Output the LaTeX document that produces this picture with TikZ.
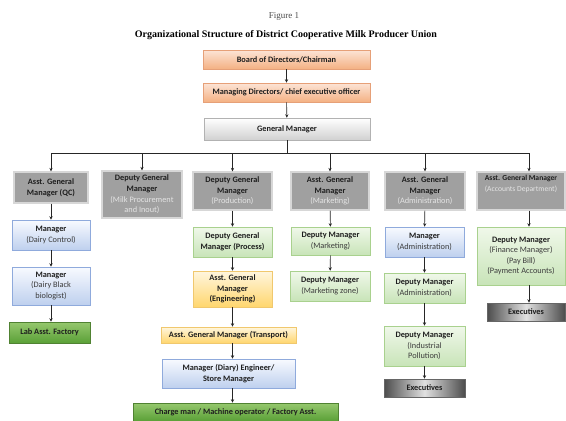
\documentclass[tikz,border=0pt]{standalone}
\usepackage{fontspec}
\setmainfont{Liberation Serif}
\newfontfamily\boxfont{Carlito}
\usetikzlibrary{arrows.meta,shadows}
\definecolor{txt}{RGB}{30,30,30}
\definecolor{ptxt}{RGB}{60,60,60}
\definecolor{orL}{RGB}{252,228,214}
\definecolor{orD}{RGB}{244,177,131}
\definecolor{orB}{RGB}{230,160,120}
\definecolor{gry}{RGB}{160,160,160}
\definecolor{gryB}{RGB}{215,215,215}
\definecolor{gryT}{RGB}{228,228,228}
\definecolor{blL}{RGB}{248,250,255}
\definecolor{blD}{RGB}{190,208,238}
\definecolor{blB}{RGB}{143,170,220}
\definecolor{lgL}{RGB}{240,248,234}
\definecolor{lgD}{RGB}{200,228,184}
\definecolor{lgB}{RGB}{169,209,142}
\definecolor{yeL}{RGB}{255,246,222}
\definecolor{yeD}{RGB}{255,214,110}
\definecolor{yeB}{RGB}{240,200,110}
\definecolor{dgL}{RGB}{150,200,110}
\definecolor{dgD}{RGB}{90,160,55}
\definecolor{dgB}{RGB}{80,130,50}
\begin{document}
\begin{tikzpicture}[x=1pt,y=-1pt,
  box/.style={rectangle, inner sep=0pt, align=center, text=txt,
    font=\boxfont\fontsize{8.3}{10.6}\selectfont\bfseries,
    drop shadow={shadow xshift=0.8pt, shadow yshift=-0.9pt, opacity=0.3}},
  orbox/.style={box, top color=orL, bottom color=orD, draw=orB, line width=0.5pt},
  gmbox/.style={box, top color=white, bottom color=black!18, draw=black!30, line width=0.5pt},
  grbox/.style={box, fill=gry, draw=gryB, line width=1.2pt},
  blbox/.style={box, top color=blL, bottom color=blD, draw=blB, line width=0.5pt},
  lgbox/.style={box, top color=lgL, bottom color=lgD, draw=lgB, line width=0.5pt},
  yebox/.style={box, top color=yeL, bottom color=yeD, draw=yeB, line width=0.5pt},
  dgbox/.style={box, top color=dgL, bottom color=dgD, draw=dgB, line width=0.5pt},
  exbox/.style={box, left color=black!70, right color=black!70, middle color=black!12, draw=black!60, line width=0.5pt},
  arr/.style={-{Stealth[length=3.5pt,width=3.2pt]}, line width=0.6pt, draw=black!85},
  ln/.style={line width=0.6pt, draw=black!85}
]
\useasboundingbox[fill=white] (0,0) rectangle (566,421);
\newcommand{\pn}[1]{{\mdseries\color{ptxt}#1}}
\newcommand{\pg}[1]{{\mdseries\color{gryT}#1}}

\node[font=\fontsize{9}{10}\selectfont, text=black!70] (fig) at (284,16) {Figure 1};
\node[font=\fontsize{10}{11}\selectfont\bfseries] (title) at (286,35) {Organizational Structure of District Cooperative Milk Producer Union};

\node[orbox, minimum width=167pt, minimum height=19pt] (board) at (286.5,59.5) {Board of Directors/Chairman};
\node[orbox, minimum width=167pt, minimum height=19pt] (md) at (286.5,92.5) {Managing Directors/ chief executive officer};
\node[gmbox, minimum width=166pt, minimum height=22pt] (gm) at (287,129) {General Manager};

\node[grbox, minimum width=74pt, minimum height=31pt] (qc) at (51,187.5) {Asst. General\\Manager (QC)};
\node[grbox, minimum width=80pt, minimum height=47pt] (milk) at (142,194.5) {Deputy General\\Manager\\\pg{(Milk Procurement}\\\pg{and Inout)}};
\node[grbox, minimum width=79pt, minimum height=38pt] (prod) at (232.5,191) {Deputy General\\Manager\\\pg{(Production)}};
\node[grbox, minimum width=78pt, minimum height=38pt] (mkt) at (330,191) {Asst. General\\Manager\\\pg{(Marketing)}};
\node[grbox, minimum width=80pt, minimum height=38pt] (adm) at (425,191) {Asst. General\\Manager\\\pg{(Administration)}};
\node[grbox, minimum width=88pt, minimum height=38pt, font=\boxfont\fontsize{7.6}{10.5}\selectfont\bfseries] (acc) at (521,191) {Asst. General Manager\\\pg{(Accounts Department)}\\[5pt]};

\node[blbox, minimum width=78pt, minimum height=30pt] (dc) at (51,235) {Manager\\\pn{(Dairy Control)}};
\node[blbox, minimum width=78pt, minimum height=38pt] (db) at (51,286) {Manager\\\pn{(Dairy Black}\\\pn{biologist)}};
\node[dgbox, minimum width=81pt, minimum height=21pt] (lab) at (49.5,332.5) {Lab Asst. Factory};

\node[lgbox, minimum width=79pt, minimum height=30pt] (proc) at (232.5,242) {Deputy General\\Manager (Process)};
\node[yebox, minimum width=79pt, minimum height=36pt] (eng) at (232.5,289) {Asst. General\\Manager\\(Engineering)};
\node[yebox, minimum width=135pt, minimum height=16pt] (trans) at (228.5,335) {Asst. General Manager (Transport)};
\node[blbox, minimum width=133pt, minimum height=29pt] (mde) at (228.5,373.5) {Manager (Diary) Engineer/\\Store Manager};
\node[dgbox, minimum width=205pt, minimum height=18pt] (charge) at (235.5,412) {Charge man / Machine operator / Factory Asst.};

\node[lgbox, minimum width=79pt, minimum height=28pt] (dmm) at (330.5,241) {Deputy Manager\\\pn{(Marketing)}};
\node[lgbox, minimum width=80pt, minimum height=30pt] (dmz) at (330,286) {Deputy Manager\\\pn{(Marketing zone)}};

\node[blbox, minimum width=79pt, minimum height=30pt] (madm) at (424.5,242) {Manager\\\pn{(Administration)}};
\node[lgbox, minimum width=81pt, minimum height=30pt] (dmadm) at (424.5,288) {Deputy Manager\\\pn{(Administration)}};
\node[lgbox, minimum width=81pt, minimum height=40pt] (dmip) at (424.5,346) {Deputy Manager\\\pn{(Industrial}\\\pn{Pollution)}};
\node[exbox, minimum width=81pt, minimum height=18pt] (exe1) at (424.5,388) {Executives};

\node[lgbox, minimum width=88pt, minimum height=58pt] (dmf) at (521,256) {Deputy Manager\\\pn{(Finance Manager)}\\\pn{(Pay Bill)}\\\pn{(Payment Accounts)}};
\node[exbox, minimum width=78pt, minimum height=18pt] (exe2) at (526,312) {Executives};

% connectors
\draw[arr] (board) -- (md);
\draw[arr] (md) -- (gm);
\coordinate (bus) at (287,153);
\draw[ln] (gm.south) -- (bus);
\draw[ln] (qc.north |- bus) -- ([xshift=8pt]acc.north |- bus);
\foreach \n in {qc,milk,prod,mkt,adm} \draw[arr] (\n.north |- bus) -- (\n.north);
\draw[arr] ([xshift=8pt]acc.north |- bus) -- ([xshift=8pt]acc.north);

\draw[arr] (qc) -- (dc);
\draw[arr] (dc) -- (db);
\draw[arr] (db.south) -- (db.south |- lab.north);

\draw[arr] (prod) -- (proc);
\draw[arr] (proc) -- (eng);
\draw[arr] (eng.south) -- (eng.south |- trans.north);
\draw[arr] (eng.south |- trans.south) -- (eng.south |- mde.north);
\draw[arr] (eng.south |- mde.south) -- (eng.south |- charge.north);

\draw[arr] (mkt) -- (dmm);
\draw[arr] (dmm) -- (dmz);

\draw[arr] (adm) -- (madm);
\draw[arr] (madm) -- (dmadm);
\draw[arr] (dmadm) -- (dmip);
\draw[arr] (dmip) -- (exe1);

\draw[arr] ([xshift=8pt]acc.south) -- ([xshift=8pt]acc.south |- dmf.north);
\draw[arr] ([xshift=8pt]dmf.south) -- ([xshift=8pt]dmf.south |- exe2.north);
\end{tikzpicture}
\end{document}
